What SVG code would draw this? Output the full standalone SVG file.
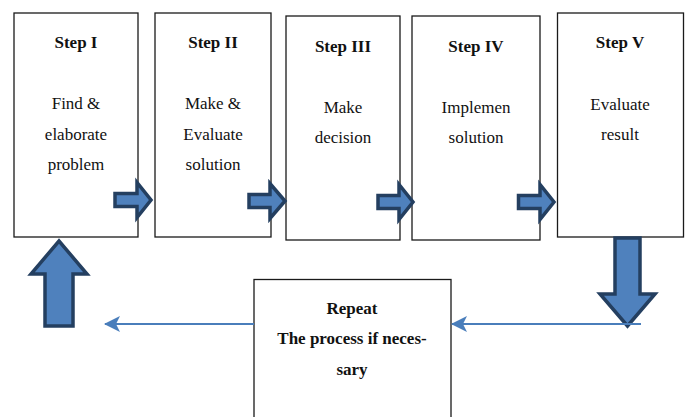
<svg xmlns="http://www.w3.org/2000/svg" width="690" height="417" viewBox="0 0 690 417">
<style>
.box{fill:#fff;stroke:#1a1a1a;stroke-width:1.3}
.t{font-family:"Liberation Serif","Times New Roman",serif;font-size:17px;fill:#111;text-anchor:middle}
.b{font-weight:bold}
.blk{fill:#4f81bd;stroke:#243f60;stroke-width:3.5;stroke-linejoin:miter}
.thin{stroke:#4a7ebb;stroke-width:2;fill:none}
</style>
<defs>
<marker id="ah" viewBox="0 0 16 16" refX="15" refY="8" markerWidth="16" markerHeight="16" markerUnits="userSpaceOnUse" orient="auto">
<path d="M0,0 L16,8 L0,16 L4,8 Z" fill="#4a7ebb"/>
</marker>
</defs>
<rect width="690" height="417" fill="#fff"/>
<g id="step1">
<rect class="box" x="14" y="13" width="124" height="224"/>
<text class="t b" x="76" y="48">Step I</text>
<text class="t" x="76" y="109">Find &amp;</text>
<text class="t" x="76" y="140">elaborate</text>
<text class="t" x="76" y="170">problem</text>
</g>
<g id="step2">
<rect class="box" x="155" y="13" width="116" height="224"/>
<text class="t b" x="213" y="48">Step II</text>
<text class="t" x="213" y="109">Make &amp;</text>
<text class="t" x="213" y="140">Evaluate</text>
<text class="t" x="213" y="170">solution</text>
</g>
<g id="step3">
<rect class="box" x="286" y="16" width="114" height="224"/>
<text class="t b" x="343" y="52">Step III</text>
<text class="t" x="343" y="113">Make</text>
<text class="t" x="343" y="143">decision</text>
</g>
<g id="step4">
<rect class="box" x="412" y="16" width="128" height="224"/>
<text class="t b" x="476" y="52">Step IV</text>
<text class="t" x="476" y="113">Implemen</text>
<text class="t" x="476" y="143">solution</text>
</g>
<g id="step5">
<rect class="box" x="557.5" y="13" width="126" height="224"/>
<text class="t b" x="620" y="48">Step V</text>
<text class="t" x="620" y="110">Evaluate</text>
<text class="t" x="620" y="140">result</text>
</g>
<g id="repeat">
<rect class="box" x="254" y="279.5" width="197" height="150"/>
<text class="t b" x="352" y="314">Repeat</text>
<text class="t b" x="352" y="344">The process if neces-</text>
<text class="t b" x="352" y="375">sary</text>
</g>
<g id="connectors">
<path class="blk" d="M115,193.5 H137 V182.5 L151,200 L137,217.5 V206.5 H115 Z"/>
<path class="blk" d="M249,194.5 H270 V183.5 L285,201 L270,218.5 V207.5 H249 Z"/>
<path class="blk" d="M378,195.5 H399 V184.5 L413,202 L399,219.5 V208.5 H378 Z"/>
<path class="blk" d="M518.5,195.5 H540 V184.5 L554,202 L540,219.5 V208.5 H518.5 Z"/>
<path class="blk" d="M615,238 H640 V294 H655 L627.5,326 L600,294 H615 Z"/>
<path class="blk" d="M45,326 H73 V274 H87 L59,241 L31,274 H45 Z"/>
<line class="thin" x1="641" y1="324" x2="452" y2="324" marker-end="url(#ah)"/>
<line class="thin" x1="254" y1="324" x2="105" y2="324" marker-end="url(#ah)"/>
</g>
</svg>
